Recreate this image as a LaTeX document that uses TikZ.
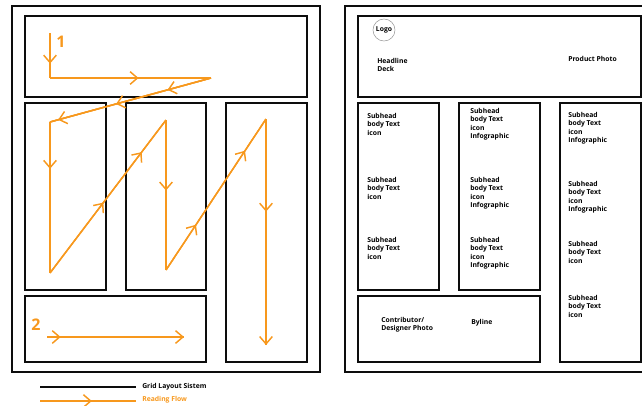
\documentclass[tikz,border=0pt]{standalone}
\usepackage{fontspec}
\setmainfont{Open Sans}
\usetikzlibrary{arrows.meta,decorations.markings}
\definecolor{flowOrange}{HTML}{F7981D}
\tikzset{
    x=0.75pt,
    y=-0.75pt,
    >={Straight Barb[length=5.5pt,width=9.5pt,line width=1.1pt]},
    gridLine/.style={draw=black!95,line width=1.7pt},
    flowLine/.style={draw=flowOrange,line width=1.1pt},
    copyText/.style={inner sep=0,anchor=north west,align=left,font=\fontsize{5.1}{6.3}\selectfont\bfseries,text=black},
}
\newcommand{\gridBox}[4] {
    \draw[gridLine] ({#1},{#2}) rectangle ({#3},{#4});
}
% one leg of the reading flow, #3 is where its head sits
\newcommand{\flowLeg}[3] {
    \draw[flowLine,postaction={decorate},decoration={markings,
        mark=at position #3 with {\arrow{>}}}]
        (#1) -- (#2);
}
\newcommand{\copyBlock}[4] {
    \node[copyText] (#1) at ({#2},{#3}) {#4};
}
\begin{document}
\begin{tikzpicture}
    \useasboundingbox (0,0) rectangle (642,405);
    \clip (0,0) rectangle (642,405);

    % left page, grid
    \gridBox{12}{6}{320}{372}
    \gridBox{25}{16}{307}{97}
    \gridBox{25}{103}{106}{290}
    \gridBox{126}{103}{206}{290}
    \gridBox{226}{103}{307}{362}
    \gridBox{25}{296}{206}{362}

    % left page, flow
    \coordinate (flowA) at (50,33);
    \coordinate (flowB) at (50,78);
    \coordinate (flowC) at (211,78);
    \coordinate (flowD) at (50,122);
    \coordinate (flowE) at (50,273);
    \coordinate (flowF) at (166,120);
    \coordinate (flowG) at (166,270);
    \coordinate (flowH) at (266,119);
    \coordinate (flowI) at (266,345);
    \coordinate (flowJ) at (47,337);
    \coordinate (flowK) at (184,337);
    \flowLeg{flowA}{flowB}{0.68}
    \flowLeg{flowB}{flowC}{0.55}
    \flowLeg{flowC}{flowD}{0.27}
    \flowLeg{flowC}{flowD}{0.59}
    \flowLeg{flowC}{flowD}{0.95}
    \flowLeg{flowD}{flowE}{0.31}
    \flowLeg{flowE}{flowF}{0.46}
    \flowLeg{flowE}{flowF}{0.79}
    \flowLeg{flowF}{flowG}{0.47}
    \flowLeg{flowG}{flowH}{0.30}
    \flowLeg{flowG}{flowH}{0.79}
    \flowLeg{flowH}{flowI}{0.41}
    \flowLeg{flowH}{flowI}{1}
    \flowLeg{flowJ}{flowK}{0.10}
    \flowLeg{flowJ}{flowK}{1}
    \node[text=flowOrange,font=\fontsize{12}{12}\selectfont\bfseries] (numOne) at (61,42) {1};
    \node[text=flowOrange,font=\fontsize{12}{12}\selectfont\bfseries] (numTwo) at (36,325) {2};

    % legend
    \coordinate (gridFrom) at (40,387);
    \coordinate (gridTo) at (136,387);
    \coordinate (readFrom) at (40,401);
    \coordinate (readTo) at (136,401);
    \draw[draw=black!95,line width=1.4pt] (gridFrom) -- (gridTo);
    \flowLeg{readFrom}{readTo}{0.54}
    \node[copyText,anchor=west] (gridKey) at (142,387) {Grid Layout Sistem};
    \node[copyText,anchor=west,text=flowOrange] (readKey) at (142,400) {Reading Flow};

    % right page, grid
    \draw[gridLine] (643,6) -- (345,6) -- (345,372) -- (643,372);
    \gridBox{358}{16}{641}{97}
    \gridBox{358}{103}{439}{290}
    \gridBox{459}{103}{540}{290}
    \gridBox{560}{103}{641}{362}
    \gridBox{358}{296}{540}{362}

    % right page, copy
    \node[draw=black!40,line width=0.4pt,circle,minimum size=16.5pt,inner sep=0,
        font=\fontsize{5.1}{6.3}\selectfont\bfseries] (logo) at (384,30) {Logo};
    \copyBlock{headline}{377}{58}{Headline\\Deck}
    \copyBlock{productPhoto}{568}{56}{Product Photo}
    \copyBlock{colOneA}{367}{113}{Subhead\\body Text\\icon}
    \copyBlock{colOneB}{367}{177}{Subhead\\body Text\\icon}
    \copyBlock{colOneC}{367}{237}{Subhead\\body Text\\icon}
    \copyBlock{colTwoA}{470}{108}{Subhead\\body Text\\icon\\Infographic}
    \copyBlock{colTwoB}{470}{177}{Subhead\\body Text\\icon\\Infographic}
    \copyBlock{colTwoC}{470}{237}{Subhead\\body Text\\icon\\Infographic}
    \copyBlock{colThreeA}{568}{112}{Subhead\\body Text\\icon\\Infographic}
    \copyBlock{colThreeB}{568}{181}{Subhead\\body Text\\icon\\Infographic}
    \copyBlock{colThreeC}{568}{241}{Subhead\\body Text\\icon}
    \copyBlock{colThreeD}{568}{295}{Subhead\\body Text\\icon}
    \copyBlock{contributor}{381}{317}{Contributor/\\Designer Photo}
    \copyBlock{byline}{471}{319}{Byline}
\end{tikzpicture}
\end{document}
